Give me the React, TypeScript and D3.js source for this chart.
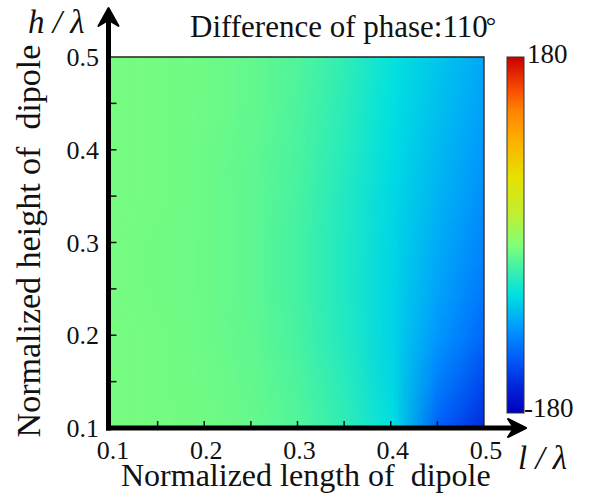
import React, { useMemo } from 'react';
import * as d3 from 'd3';

// Grid of the phase map: columns = normalized dipole length l/λ, rows = normalized height h/λ (top row first)
const lengths = [0.1, 0.15, 0.2, 0.25, 0.3, 0.35, 0.4, 0.45, 0.5];
const heights = [0.5, 0.45, 0.4, 0.35, 0.3, 0.25, 0.2, 0.15, 0.1];
const phaseRows = [
  [-14, -15, -17, -21, -28, -40, -58, -73, -88],
  [-14, -15, -17, -21, -29, -42, -60, -76, -91],
  [-14, -15, -18, -22, -30, -44, -62, -79, -95],
  [-14, -15, -18, -23, -31, -46, -64, -82, -100],
  [-14, -16, -18, -23, -32, -47, -65, -86, -105],
  [-14, -16, -18, -23, -32, -47, -66, -90, -111],
  [-14, -15, -18, -22, -31, -46, -66, -96, -120],
  [-14, -15, -17, -21, -29, -43, -65, -108, -136],
  [-14, -15, -16, -20, -27, -40, -60, -124, -152],
];

const xTickLabels = [0.1, 0.2, 0.3, 0.4, 0.5];
const yTickLabels = [0.1, 0.2, 0.3, 0.4, 0.5];
const innerTicks = [0.15, 0.2, 0.25, 0.3, 0.35, 0.4, 0.45];

// Rainbow colormap for phase in degrees
const colorDomain = [-180, -152, -126, -96, -60, -35, -10, 20, 58, 96, 126, 150, 180];
const colorRange = ['#0000be', '#0028dc', '#005afa', '#0096ff', '#00e1e1', '#3cf0aa', '#82ff78', '#bef032', '#e6e100', '#ffaf00', '#ff8200', '#f54600', '#c80000'];
const phaseRange = [-180, 180];

const W = 590;
const H = 494;
const SERIF = "'Liberation Serif'";

export default function App() {
  const x = d3.scaleLinear().domain([0.1, 0.5]).range([111, 484]);
  const y = d3.scaleLinear().domain([0.1, 0.5]).range([428, 57]);
  const color = d3.scaleLinear<string>().domain(colorDomain).range(colorRange).interpolate(d3.interpolateRgb);
  const cb = d3.scaleLinear().domain(phaseRange).range([413, 57]);

  const imgHref = useMemo(() => {
    const cols = lengths.length;
    const rows = heights.length;
    const canvas = document.createElement('canvas');
    canvas.width = cols;
    canvas.height = rows;
    const ctx = canvas.getContext('2d')!;
    const img = ctx.createImageData(cols, rows);
    phaseRows.forEach((row, r) => {
      row.forEach((v, c) => {
        const col = d3.rgb(color(v));
        const i = (r * cols + c) * 4;
        img.data[i] = col.r;
        img.data[i + 1] = col.g;
        img.data[i + 2] = col.b;
        img.data[i + 3] = 255;
      });
    });
    ctx.putImageData(img, 0, 0);
    return canvas.toDataURL();
  }, []);

  const cellW = (x(lengths[lengths.length - 1]) - x(lengths[0])) / (lengths.length - 1);
  const cellH = Math.abs(y(heights[heights.length - 1]) - y(heights[0])) / (heights.length - 1);

  const plotL = x(0.1);
  const plotR = x(0.5);
  const plotT = y(0.5);
  const plotB = y(0.1);

  const axisX = 108.5;
  const axisY = 428;
  const txt = { fontFamily: SERIF, fill: '#111' } as React.CSSProperties;

  return (
    <svg width={W} height={H} style={{ position: 'absolute', left: 0, top: 0, background: '#fff' }}>
      <defs>
        <clipPath id="plot-clip">
          <rect x={plotL} y={plotT} width={plotR - plotL} height={plotB - plotT} />
        </clipPath>
        <linearGradient id="cbar" x1="0" y1="1" x2="0" y2="0">
          {colorDomain.map((d) => (
            <stop key={d} offset={(d - phaseRange[0]) / (phaseRange[1] - phaseRange[0])} stopColor={color(d)} />
          ))}
        </linearGradient>
      </defs>

      {/* phase map */}
      <g clipPath="url(#plot-clip)">
        <image
          href={imgHref}
          x={x(lengths[0]) - cellW / 2}
          y={y(heights[0]) - cellH / 2}
          width={cellW * lengths.length}
          height={cellH * heights.length}
          preserveAspectRatio="none"
        />
      </g>
      <path d={`M${plotL},${plotT}H${plotR}V${plotB}`} fill="none" stroke="#222" strokeWidth={1.3} />

      {/* inner ticks */}
      {innerTicks.map((t) => (
        <line key={'xt' + t} x1={x(t)} x2={x(t)} y1={axisY - 2} y2={axisY - 7} stroke="#111" strokeWidth={1.5} />
      ))}
      {innerTicks.map((t) => (
        <line key={'yt' + t} x1={axisX + 2} x2={axisX + 8} y1={y(t)} y2={y(t)} stroke="#111" strokeWidth={1.5} />
      ))}

      {/* axes with arrows */}
      <line x1={axisX} x2={axisX} y1={axisY + 2.5} y2={18} stroke="#000" strokeWidth={5} />
      <path d={`M${axisX},8 L${axisX + 10},26 L${axisX},20 L${axisX - 10},26 Z`} fill="#000" stroke="#000" strokeWidth={2} strokeLinejoin="round" />
      <line x1={axisX - 2.5} x2={516} y1={axisY} y2={axisY} stroke="#000" strokeWidth={5} />
      <path d={`M526,${axisY} L508,${axisY - 9} L514,${axisY} L508,${axisY + 9} Z`} fill="#000" stroke="#000" strokeWidth={2} strokeLinejoin="round" />

      {/* tick labels */}
      {yTickLabels.map((t) => (
        <text key={'yl' + t} x={99} y={y(t) + 9} fontSize={26} textAnchor="end" style={txt}>
          {t.toFixed(1)}
        </text>
      ))}
      {xTickLabels.map((t) => (
        <text key={'xl' + t} x={x(t) + 2} y={459} fontSize={26} textAnchor="middle" style={txt}>
          {t.toFixed(1)}
        </text>
      ))}

      {/* axis titles */}
      <text x={121} y={486} fontSize={32} style={{ ...txt, whiteSpace: 'pre' }}>
        {'Normalized length of  dipole'}
      </text>
      <text transform={`translate(40,241) rotate(-90)`} fontSize={34} textAnchor="middle" style={{ ...txt, whiteSpace: 'pre' }}>
        {'Normalized height of  dipole'}
      </text>
      <text x={28} y={33} fontSize={33} fontStyle="italic" style={{ ...txt, whiteSpace: 'pre' }}>
        {'h / λ'}
      </text>
      <text x={518} y={469} fontSize={33} fontStyle="italic" style={{ ...txt, whiteSpace: 'pre' }}>
        {'l / λ'}
      </text>

      {/* title */}
      <text x={190} y={37} fontSize={31} style={txt}>
        Difference of phase:110<tspan dx={-2} dy={-3} fontSize={26}>°</tspan>
      </text>

      {/* colorbar */}
      <rect x={507} y={cb(180)} width={17} height={cb(-180) - cb(180)} fill="url(#cbar)" stroke="#333" strokeWidth={1} />
      <text x={527} y={cb(180) + 6} fontSize={27} style={txt}>
        {phaseRange[1]}
      </text>
      <text x={524} y={cb(-180) + 4} fontSize={27} style={txt}>
        {phaseRange[0]}
      </text>
    </svg>
  );
}
